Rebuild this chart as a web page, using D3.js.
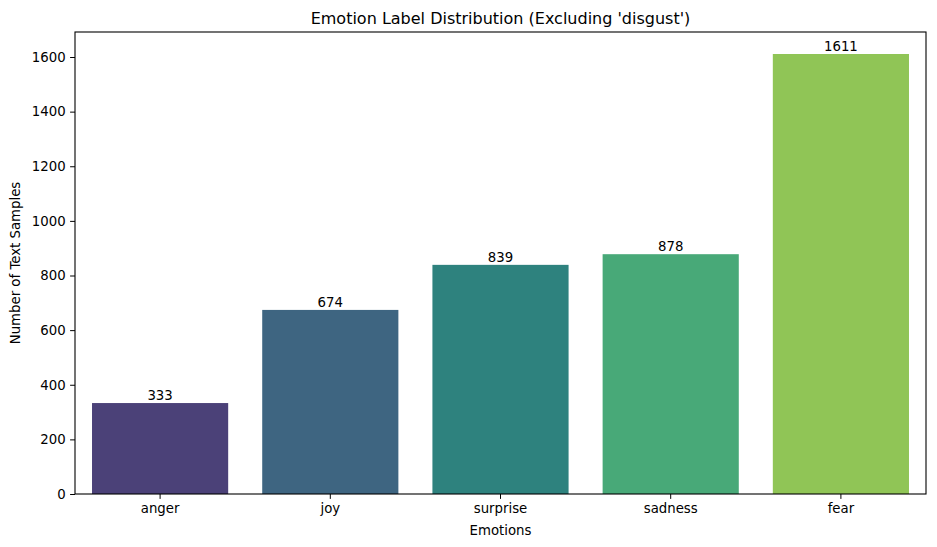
<html>
<head>
<script src="https://cdnjs.cloudflare.com/ajax/libs/d3/7.8.5/d3.min.js"></script>
<style>
    body { margin: 0; background: #fff; }
    svg text { font-family: "DejaVu Sans", sans-serif; fill: #000; }
    .tick line { stroke: #000; }
    .domain { stroke: none; }
</style>
</head>
<body>
<svg id="chart" width="937" height="547"></svg>
<script>
    // data
    var emotions = ["anger", "joy", "surprise", "sadness", "fear"];
    var counts = [333, 674, 839, 878, 1611];
    var colors = ["#4b4178", "#3e6581", "#2e827e", "#48a978", "#90c556"];
    var yTicks = [0, 200, 400, 600, 800, 1000, 1200, 1400, 1600];

    var plotLeft = 75, plotRight = 926, plotTop = 32, plotBottom = 494;
    var svg = d3.select("#chart");

    var x = d3.scaleBand().domain(emotions).range([plotLeft, plotRight]).paddingInner(0.2).paddingOuter(0.1);
    var y = d3.scaleLinear().domain([0, d3.max(counts) * 1.05]).range([plotBottom, plotTop]);

    // bars
    svg.selectAll(".bar").data(emotions).enter()
        .append("rect").attr("class", "bar")
        .attr("x", function(d){ return x(d); })
        .attr("width", x.bandwidth())
        .attr("y", function(d, i){ return y(counts[i]); })
        .attr("height", function(d, i){ return plotBottom - y(counts[i]); })
        .attr("fill", function(d, i){ return colors[i]; });

    // value labels
    svg.selectAll(".lbl").data(emotions).enter()
        .append("text").attr("class", "lbl")
        .attr("x", function(d){ return x(d) + x.bandwidth() / 2; })
        .attr("y", function(d, i){ return y(counts[i]) - 3; })
        .attr("text-anchor", "middle")
        .style("font-size", "13.3px")
        .text(function(d, i){ return counts[i]; });

    // axes
    var xAxis = svg.append("g").attr("transform", "translate(0," + plotBottom + ")")
        .call(d3.axisBottom(x).tickSize(4.9).tickPadding(4.5));
    xAxis.selectAll("text").style("font-size", "13.3px");

    var yAxis = svg.append("g").attr("transform", "translate(" + plotLeft + ",0)")
        .call(d3.axisLeft(y).tickValues(yTicks).tickFormat(d3.format("d")).tickSize(4.9).tickPadding(4.5));
    yAxis.selectAll("text").style("font-size", "13.3px");

    // frame
    svg.append("rect").attr("x", plotLeft).attr("y", plotTop)
        .attr("width", plotRight - plotLeft).attr("height", plotBottom - plotTop)
        .attr("fill", "none").attr("stroke", "#000").attr("stroke-width", 1.1);

    // titles
    svg.append("text").attr("x", (plotLeft + plotRight) / 2).attr("y", 24)
        .attr("text-anchor", "middle").style("font-size", "16px")
        .text("Emotion Label Distribution (Excluding 'disgust')");
    svg.append("text").attr("x", (plotLeft + plotRight) / 2).attr("y", 535)
        .attr("text-anchor", "middle").style("font-size", "13.3px")
        .text("Emotions");
    svg.append("text").attr("transform", "translate(20," + (plotTop + plotBottom) / 2 + ") rotate(-90)")
        .attr("text-anchor", "middle").style("font-size", "13.3px")
        .text("Number of Text Samples");
</script>
</body>
</html>
